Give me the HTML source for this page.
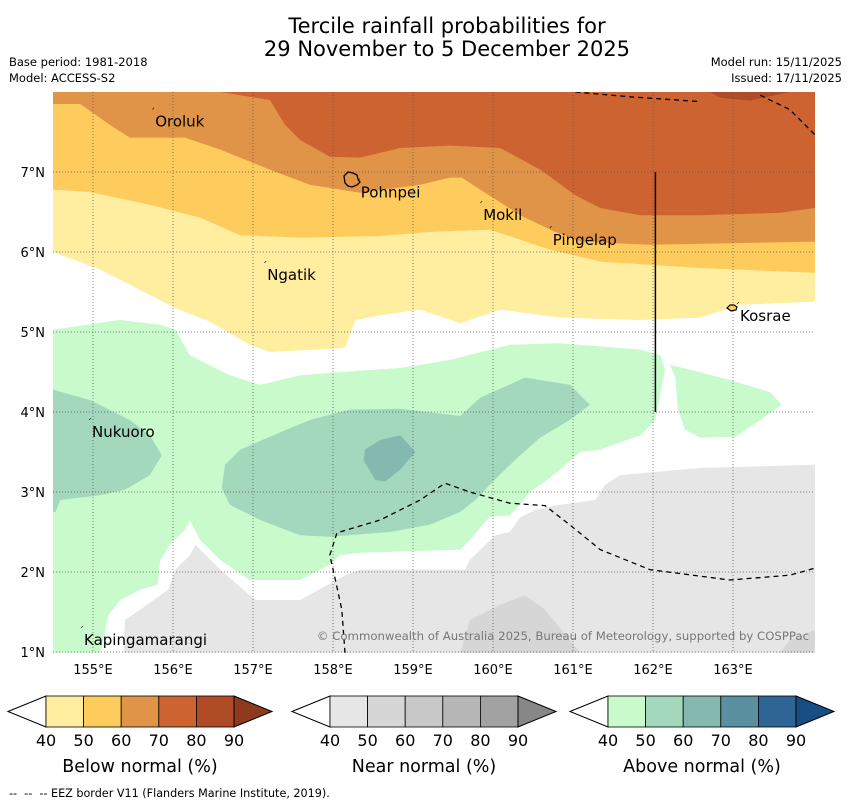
<!DOCTYPE html>
<html><head><meta charset="utf-8"><style>
body{margin:0;background:#fff;width:850px;height:804px;overflow:hidden;font-family:"DejaVu Sans","Liberation Sans",sans-serif}
svg{display:block}
</style></head><body>
<svg id="chart" width="850" height="804" xmlns="http://www.w3.org/2000/svg">
<defs><clipPath id="mapclip"><rect x="53" y="92" width="762" height="561"/></clipPath></defs>
<text x="447" y="33" font-size="21" text-anchor="middle">Tercile rainfall probabilities for</text>
<text x="447" y="56" font-size="21" text-anchor="middle">29 November to 5 December 2025</text>
<text x="9" y="66" font-size="11.5">Base period: 1981-2018</text>
<text x="9" y="82" font-size="11.5">Model: ACCESS-S2</text>
<text x="842" y="66" font-size="11.5" text-anchor="end">Model run: 15/11/2025</text>
<text x="842" y="82" font-size="11.5" text-anchor="end">Issued: 17/11/2025</text>
<g id="map" clip-path="url(#mapclip)"></g>
<g id="overlay"></g>
<g id="bars"></g>
<text x="9" y="797" font-size="11.2" xml:space="preserve">--  --  -- EEZ border V11 (Flanders Marine Institute, 2019).</text>
</svg>
<script>
const lonTicks=[155,156,157,158,159,160,161,162,163];
const latTicks=[1,2,3,4,5,6,7];
const yellowRegion=[[154.5,6.0],[155.09,5.78],[156.03,5.3],[156.46,5.13],[156.96,4.84],[157.21,4.75],[158.15,4.8],[158.28,5.15],[158.59,5.21],[159.09,5.28],[159.59,5.11],[160.09,5.28],[160.84,5.18],[161.84,5.15],[162.59,5.18],[163.09,5.34],[164.03,5.38],[164.03,8],[154.5,8]];
const lightOrangeRegion=[[154.5,6.78],[154.96,6.75],[155.71,6.59],[156.34,6.43],[156.84,6.21],[157.59,6.18],[158.59,6.2],[159.21,6.25],[159.96,6.28],[160.71,6.03],[161.34,5.88],[162.59,5.8],[164.03,5.74],[164.03,8],[154.5,8]];
const midOrangeRegion=[[154.5,7.85],[154.84,7.85],[155.21,7.59],[155.46,7.43],[156.15,7.43],[156.59,7.28],[157.21,7.03],[157.71,6.84],[158.34,6.74],[159.09,6.84],[159.46,6.93],[159.61,6.93],[159.84,6.78],[160.34,6.46],[160.78,6.25],[161.09,6.13],[161.96,6.09],[164.03,6.13],[164.03,8],[154.5,8]];
const darkOrangeRegion=[[156.59,8],[157.21,7.9],[157.4,7.59],[157.59,7.4],[157.96,7.19],[158.34,7.18],[158.84,7.3],[159.46,7.33],[160.09,7.3],[160.59,7.03],[161.03,6.71],[161.34,6.55],[161.84,6.46],[162.59,6.46],[163.59,6.49],[164.03,6.55],[164.03,8]];
const darkestRegion=[[162.71,8],[162.84,7.93],[163.21,7.89],[163.71,8]];
const greenRegion=[[154.5,5.03],[155.34,5.15],[155.84,5.09],[156.03,5.03],[156.21,4.71],[156.71,4.46],[157.09,4.34],[157.59,4.46],[158.09,4.5],[158.84,4.55],[159.46,4.65],[160.21,4.84],[160.84,4.86],[161.84,4.78],[162.09,4.71],[162.15,4.53],[162.09,4.21],[162.03,3.9],[161.84,3.71],[161.34,3.53],[161.09,3.5],[160.84,3.28],[160.65,3.13],[160.46,3.0],[160.34,2.84],[160.21,2.71],[159.96,2.69],[159.71,2.4],[159.59,2.28],[158.34,2.24],[158.09,2.21],[157.96,2.09],[157.59,1.9],[156.96,1.9],[156.59,2.15],[156.34,2.4],[156.21,2.65],[156.15,2.53],[155.96,2.34],[155.84,2.15],[155.81,1.84],[155.59,1.78],[155.34,1.65],[155.19,1.46],[155.13,1.15],[155.09,0.99],[154.5,0.99]];
const greenRightRegion=[[162.21,4.59],[162.46,4.53],[162.96,4.4],[163.46,4.25],[163.61,4.09],[163.34,3.9],[163.03,3.69],[162.59,3.68],[162.4,3.78],[162.31,4.03],[162.28,4.43]];
const greyRegion=[[164.03,3.34],[162.59,3.3],[162.34,3.28],[161.59,3.21],[161.4,3.09],[161.28,2.9],[160.84,2.84],[160.53,2.78],[160.34,2.68],[160.21,2.5],[160.03,2.46],[159.71,2.15],[159.65,2.03],[158.34,2.03],[158.15,1.96],[157.59,1.65],[157.03,1.65],[156.59,2.03],[156.28,2.34],[156.21,2.21],[156.03,2.03],[155.94,1.78],[155.59,1.53],[155.4,1.4],[155.38,0.99],[164.03,0.99]];
const darkGreyRegion=[[159.59,0.99],[159.71,1.4],[160.09,1.59],[160.4,1.71],[160.65,1.53],[160.96,1.15],[161.09,0.99]];
const darkGreyRightRegion=[[163.59,0.99],[163.71,1.15],[164.03,1.28],[164.03,0.99]];
const tealLeftRegion=[[154.5,4.28],[154.96,4.15],[155.46,3.9],[155.71,3.71],[155.86,3.46],[155.71,3.21],[155.4,3.03],[155.09,2.96],[154.59,2.9],[154.53,2.75],[154.5,2.75]];
const tealMidRegion=[[156.65,3.34],[156.84,3.53],[157.21,3.69],[157.71,3.9],[158.21,4.03],[158.84,4.04],[159.59,3.95],[159.84,4.18],[160.4,4.43],[160.96,4.34],[161.21,4.09],[160.96,3.9],[160.59,3.68],[160.34,3.46],[160.15,3.28],[159.96,3.09],[159.78,2.9],[159.59,2.75],[159.21,2.59],[158.71,2.5],[157.96,2.44],[157.59,2.46],[157.09,2.65],[156.71,2.84],[156.61,3.05]];
const darkTealRegion=[[158.4,3.53],[158.59,3.65],[158.84,3.71],[159.03,3.5],[158.84,3.28],[158.65,3.13],[158.53,3.15],[158.38,3.4]];
const eezLine1=[[161.03,8],[161.71,7.94],[162.59,7.88]];
const eezLine2=[[163.34,7.96],[163.71,7.78],[164.03,7.46]];
const eezLine3=[[158.15,0.99],[158.11,1.53],[158.03,1.9],[157.96,2.21],[158.05,2.49],[158.59,2.65],[159.09,2.9],[159.4,3.11],[159.71,3.0],[160.21,2.86],[160.65,2.83],[160.96,2.59],[161.34,2.28],[161.96,2.03],[162.96,1.9],[163.71,1.96],[164.03,2.05]];
const placeNames=["Oroluk","Pohnpei","Mokil","Pingelap","Ngatik","Kosrae","Nukuoro","Kapingamarangi"];
const placeLons=[155.74,158.31,159.84,160.71,157.14,163.05,154.95,154.85];
const placeLats=[7.72,6.83,6.55,6.24,5.8,5.29,3.84,1.24];
const belowLabels=["40","50","60","70","80","90"];
const belowColors=["#ffeda0","#fecc5c","#e09448","#cc6331","#b04c25","#8f3a1f"];
const nearColors=["#e6e6e6","#d6d6d6","#c8c8c8","#b6b6b6","#a2a2a2","#878787"];
const aboveColors=["#c8facc","#a3d8bd","#85b9b0","#5a91a0","#2f6595","#174f85"];
const barTitles=["Below normal (%)","Near normal (%)","Above normal (%)"];

const NS="http://www.w3.org/2000/svg";
const X=lon=>53+(lon-154.5)*80;
const Y=lat=>92+(8-lat)*80;
const pts=a=>a.map(p=>X(p[0]).toFixed(1)+","+Y(p[1]).toFixed(1)).join(" ");
const map=document.getElementById("map"),ov=document.getElementById("overlay"),bars=document.getElementById("bars");
function mk(tag,parent,attrs){const e=document.createElementNS(NS,tag);for(const k in attrs)e.setAttribute(k,attrs[k]);parent.appendChild(e);return e;}
function poly(arr,fill,name){const e=mk("polygon",map,{points:pts(arr),fill:fill});

}
poly(yellowRegion,"#ffeda0","below-40-50-region");
poly(lightOrangeRegion,"#fecc5c","below-50-60-region");
poly(midOrangeRegion,"#e09448","below-60-70-region");
poly(darkOrangeRegion,"#cc6331","below-70-80-region");
poly(darkestRegion,"#b04c25","below-80-90-region");
poly(greenRegion,"#c8facc","above-40-50-region");
poly(greenRightRegion,"#c8facc","above-40-50-region-east");
poly(greyRegion,"#e6e6e6","near-40-50-region");
poly(darkGreyRegion,"#d6d6d6","near-50-60-region");
poly(darkGreyRightRegion,"#d6d6d6","near-50-60-region-east");
poly(tealLeftRegion,"#a3d8bd","above-50-60-region-west");
poly(tealMidRegion,"#a3d8bd","above-50-60-region");
poly(darkTealRegion,"#85b9b0","above-60-70-region");
lonTicks.forEach(l=>{const e=mk("line",map,{x1:X(l),x2:X(l),y1:92,y2:653,stroke:"#555","stroke-width":0.7,"stroke-dasharray":"1,2"});

});
latTicks.forEach(l=>{const e=mk("line",map,{x1:53,x2:815,y1:Y(l),y2:Y(l),stroke:"#555","stroke-width":0.7,"stroke-dasharray":"1,2"});

});
[eezLine1,eezLine2,eezLine3].forEach(a=>{const e=mk("polyline",map,{points:pts(a),fill:"none",stroke:"#000","stroke-width":1.3,"stroke-dasharray":"5,4"});

});
{const e=mk("line",map,{x1:X(162.03),x2:X(162.03),y1:Y(7),y2:Y(4),stroke:"#000","stroke-width":1.5});

}
{const e=mk("path",map,{d:"M344,176 l4,-4 l5,1 l4,2 l1,4 l2,3 l-3,3 l-5,2 l-4,-1 l-3,-3 z",fill:"none",stroke:"#000","stroke-width":1.3});

}
{const e=mk("path",map,{d:"M727,308 l3,-3 l4,0 l3,2 l-1,3 l-5,1 z",fill:"#fecc5c",stroke:"#000","stroke-width":1.2});

}
placeNames.forEach((n,i)=>{const x=X(placeLons[i]),y=Y(placeLats[i]);
const d=mk("text",map,{x:x-2,y:y+1,"font-size":10});d.textContent="ˊ";


const t=mk("text",map,{x:x+3,y:y+12,"font-size":15,fill:"#000"});t.textContent=n;

});
{const t=mk("text",map,{x:809,y:640,"font-size":11.7,"text-anchor":"end",fill:"#777"});t.textContent="© Commonwealth of Australia 2025, Bureau of Meteorology, supported by COSPPac";

}
lonTicks.forEach(l=>{const t=mk("text",ov,{x:X(l),y:674,"font-size":13,"text-anchor":"middle"});t.textContent=l+"°E";

});
latTicks.forEach(l=>{const t=mk("text",ov,{x:45,y:Y(l)+5,"font-size":13,"text-anchor":"end"});t.textContent=l+"°N";

});
const barStarts=[8,292,570];
[belowColors,nearColors,aboveColors].forEach((cols,b)=>{
 const x0=barStarts[b],tri=38,bw=37.6,yt=696,yb=727,ym=711.5,bx=x0+tri,ex=bx+5*bw;
 const g=mk("g",bars,{});
 
 
 const lt=mk("polygon",g,{points:`${x0},${ym} ${bx},${yt} ${bx},${yb}`,fill:"#fff",stroke:"#000","stroke-width":1});
 
 
 for(let i=0;i<5;i++){const r=mk("rect",g,{x:bx+i*bw,y:yt,width:bw,height:yb-yt,fill:cols[i],stroke:"#000","stroke-width":0.8});
 
 }
 const rt=mk("polygon",g,{points:`${ex},${yt} ${ex+tri},${ym} ${ex},${yb}`,fill:cols[5],stroke:"#000","stroke-width":1});
 
 
 belowLabels.forEach((s,i)=>{const t=mk("text",g,{x:bx+i*bw,y:746,"font-size":16,"text-anchor":"middle"});t.textContent=s;
 
 });
 const tt=mk("text",g,{x:bx+2.5*bw,y:772,"font-size":17.5,"text-anchor":"middle"});tt.textContent=barTitles[b];
 
 
});
</script>
</body></html>
